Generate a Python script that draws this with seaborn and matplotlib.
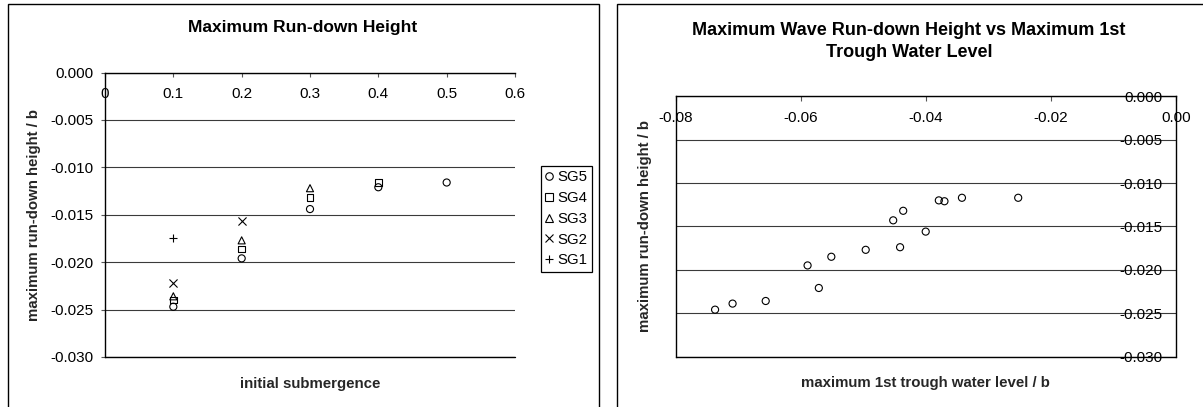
import matplotlib
matplotlib.use("Agg")
import matplotlib.pyplot as plt
from matplotlib.patches import Rectangle
from matplotlib.lines import Line2D
from matplotlib.ticker import FixedLocator, FixedFormatter
import seaborn as sns
import pandas as pd

# ---------------- data ----------------
submergence = [0.1, 0.2, 0.3, 0.4, 0.5]
sg5 = [-0.0247, -0.0196, -0.0144, -0.0121, -0.0116]
sg4 = [-0.0240, -0.0186, -0.0132, -0.0116]
sg3 = [-0.0236, -0.0177, -0.0122]
sg2 = [-0.0222, -0.0157]
sg1 = [-0.0175]
series_names = ["SG5", "SG4", "SG3", "SG2", "SG1"]

trough_level = [-0.0737, -0.0709, -0.0656, -0.0589, -0.0571, -0.0551, -0.0496,
                -0.0452, -0.0436, -0.0441, -0.0400, -0.0379, -0.0370, -0.0342, -0.0252]
rundown_height = [-0.0246, -0.0239, -0.0236, -0.0195, -0.0221, -0.0185, -0.0177,
                  -0.0143, -0.0132, -0.0174, -0.0156, -0.0120, -0.0121, -0.0117, -0.0117]

left_xticks = [0, 0.1, 0.2, 0.3, 0.4, 0.5, 0.6]
left_xticklabels = ["0", "0.1", "0.2", "0.3", "0.4", "0.5", "0.6"]
yticks = [0, -0.005, -0.010, -0.015, -0.020, -0.025, -0.030]
yticklabels = ["0.000", "-0.005", "-0.010", "-0.015", "-0.020", "-0.025", "-0.030"]
right_xticks = [-0.08, -0.06, -0.04, -0.02, 0.0]
right_xticklabels = ["-0.08", "-0.06", "-0.04", "-0.02", "0.00"]

left_title = "Maximum Run-down Height"
right_title = "Maximum Wave Run-down Height vs Maximum 1st\nTrough Water Level"
left_xlabel = "initial submergence"
right_xlabel = "maximum 1st trough water level / b"
ylabel = "maximum run-down height / b"

# ---------------- style ----------------
sns.set_theme(style="white")
plt.rcParams['font.family'] = ['Liberation Sans', 'DejaVu Sans']
plt.rcParams['text.color'] = 'black'
plt.rcParams['xtick.color'] = 'black'
plt.rcParams['ytick.color'] = 'black'

W, H = 1203, 407
fig = plt.figure(figsize=(W / 100, H / 100), dpi=100)
fig.patch.set_facecolor('white')


def ax_rect(l, t, r, b):
    return [l / W, 1 - b / H, (r - l) / W, (b - t) / H]


ax1 = fig.add_axes(ax_rect(105, 72.5, 515, 357))
ax2 = fig.add_axes(ax_rect(675.7, 96.3, 1175.7, 356.5))

GRID = '#3a3a3a'
TICK_FS = 11
LABEL_FS = 10.8

# ---------------- left panel ----------------
markers = {"SG5": "o", "SG4": "s", "SG3": "^", "SG2": "x", "SG1": "+"}
values = {"SG5": sg5, "SG4": sg4, "SG3": sg3, "SG2": sg2, "SG1": sg1}
sizes = {"SG5": 26, "SG4": 22, "SG3": 26, "SG2": 34, "SG1": 38}
for name in series_names:
    vals = values[name]
    df = pd.DataFrame({"x": submergence[:len(vals)], "y": vals})
    m = markers[name]
    if m in ("o", "s", "^"):
        sns.scatterplot(data=df, x="x", y="y", ax=ax1, marker=m, s=sizes[name],
                        facecolor="none", edgecolor="black", linewidth=0.8,
                        legend=False, label=name, zorder=3)
    else:
        sns.scatterplot(data=df, x="x", y="y", ax=ax1, marker=m, s=sizes[name],
                        color="black", linewidth=0.8,
                        legend=False, label=name, zorder=3)

ax1.set_xlim(0, 0.6)
ax1.set_ylim(-0.030, 0)
ax1.spines['bottom'].set_position(('data', 0))
ax1.spines['top'].set_visible(False)
ax1.spines['right'].set_visible(False)
for sp in ('bottom', 'left'):
    ax1.spines[sp].set_color('black')
    ax1.spines[sp].set_linewidth(1.0)
ax1.xaxis.set_major_locator(FixedLocator(left_xticks))
ax1.xaxis.set_major_formatter(FixedFormatter(left_xticklabels))
ax1.yaxis.set_major_locator(FixedLocator(yticks))
ax1.yaxis.set_major_formatter(FixedFormatter(yticklabels))
ax1.tick_params(axis='x', bottom=True, direction='out', length=3, width=0.8,
                pad=7.5, labelsize=TICK_FS, color='#555555')
ax1.tick_params(axis='y', left=True, direction='out', length=3, width=0.8,
                pad=5, labelsize=TICK_FS, color='#555555')
ax1.yaxis.grid(True, color=GRID, linewidth=0.8)
ax1.xaxis.grid(False)
ax1.axhline(-0.030, color='black', linewidth=1.0, clip_on=False, zorder=2)
ax1.set_xlabel(left_xlabel, fontsize=LABEL_FS, fontweight='bold')
ax1.set_ylabel(ylabel, fontsize=LABEL_FS, fontweight='bold')
ax1.xaxis.set_label_coords(0.5, (357 - 384) / 284.5)
ax1.xaxis.label.set_va('center')
ax1.yaxis.set_label_coords((41 - 105) / 410, 0.5)

handles = [Line2D([], [], ls='none', marker=markers[n], markersize=5.4,
                  markerfacecolor='none', markeredgecolor='black',
                  markeredgewidth=0.8, color='black') for n in series_names]
leg = ax1.legend(handles, series_names, loc='upper left',
                 bbox_to_anchor=(540.7 / W, 1 - 166 / H),
                 bbox_transform=fig.transFigure, frameon=True, fancybox=False,
                 edgecolor='black', framealpha=1, fontsize=10.8,
                 borderpad=0.3, labelspacing=0.45, handlelength=0.55,
                 handletextpad=0.25, borderaxespad=0)
leg.get_frame().set_linewidth(0.9)

# ---------------- right panel ----------------
df2 = pd.DataFrame({"trough": trough_level, "rundown": rundown_height})
sns.scatterplot(data=df2, x="trough", y="rundown", ax=ax2, marker="o", s=26,
                facecolor="none", edgecolor="black", linewidth=0.8,
                legend=False, zorder=3)
ax2.set_xlim(-0.08, 0)
ax2.set_ylim(-0.030, 0)
ax2.spines['bottom'].set_position(('data', 0))
ax2.spines['top'].set_visible(False)
for sp in ('bottom', 'left', 'right'):
    ax2.spines[sp].set_color('black')
    ax2.spines[sp].set_linewidth(1.0)
ax2.xaxis.set_major_locator(FixedLocator(right_xticks))
ax2.xaxis.set_major_formatter(FixedFormatter(right_xticklabels))
ax2.yaxis.set_major_locator(FixedLocator(yticks))
ax2.yaxis.set_major_formatter(FixedFormatter(yticklabels))
ax2.yaxis.tick_right()
ax2.tick_params(axis='x', bottom=True, direction='out', length=3.5, width=0.8,
                pad=7, labelsize=TICK_FS, color='#555555')
ax2.tick_params(axis='y', right=True, left=False, length=0, pad=-9.4,
                labelsize=TICK_FS, labelright=True, labelleft=False)
for t in ax2.get_yticklabels():
    t.set_horizontalalignment('right')
ax2.yaxis.grid(True, color=GRID, linewidth=0.8)
ax2.xaxis.grid(False)
ax2.axhline(-0.030, color='black', linewidth=1.0, clip_on=False, zorder=2)
ax2.set_xlabel(right_xlabel, fontsize=LABEL_FS, fontweight='bold')
ax2.set_ylabel(ylabel, fontsize=LABEL_FS, fontweight='bold')
ax2.xaxis.set_label_coords(0.5, (356.5 - 383) / 260.2)
ax2.xaxis.label.set_va('center')
ax2.yaxis.set_label_position('left')
ax2.yaxis.set_label_coords((652 - 675.7) / 500, 0.5)

# ---------------- titles & frames ----------------
fig.text(303 / W, 1 - 32 / H, left_title, ha='center', va='baseline',
         fontsize=12.5, fontweight='bold')
fig.text(909 / W, 1 - 57 / H, right_title, ha='center', va='baseline',
         fontsize=13, fontweight='bold', linespacing=1.4,
         multialignment='center')

fig.patches.append(Rectangle((7.5 / W, -0.05), (598.7 - 7.5) / W, 1.05 - 4 / H,
                             transform=fig.transFigure, fill=False,
                             edgecolor='black', linewidth=1.0))
fig.patches.append(Rectangle((617 / W, -0.05), (1250 - 617) / W, 1.05 - 4 / H,
                             transform=fig.transFigure, fill=False,
                             edgecolor='black', linewidth=1.0))

fig.savefig("out.png", dpi=100)
